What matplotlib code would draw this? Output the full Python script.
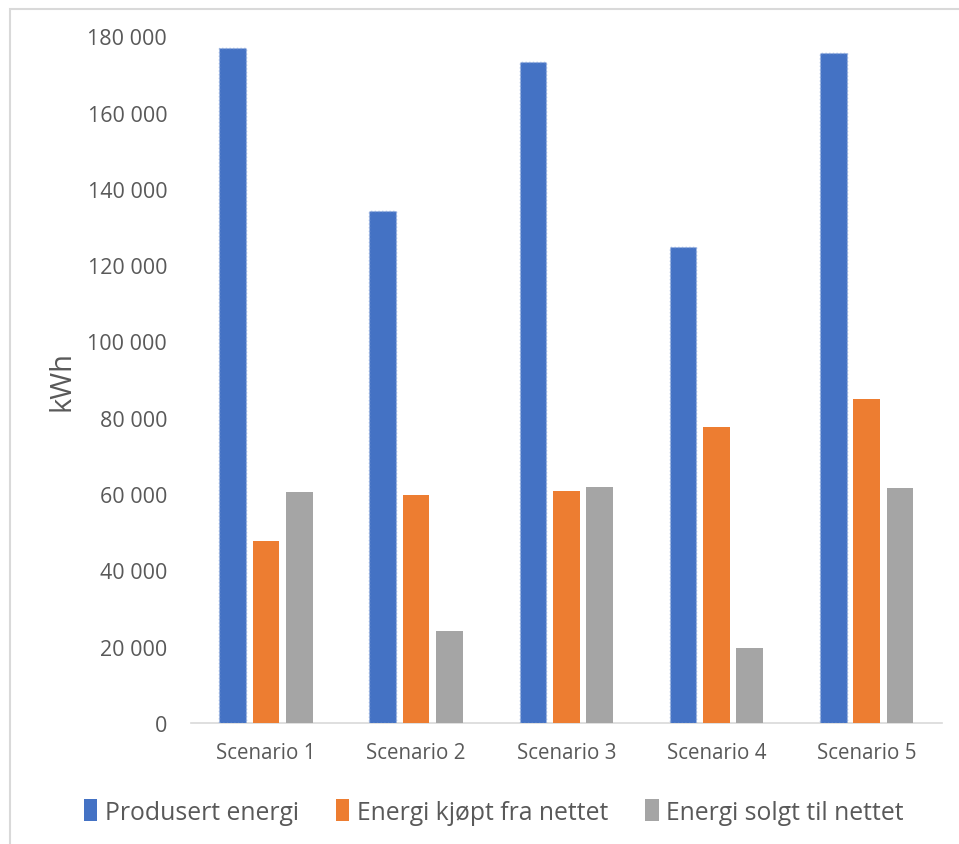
import matplotlib
matplotlib.use("Agg")
import matplotlib.pyplot as plt
import numpy as np
from matplotlib.patches import Rectangle, Patch

plt.rcParams['font.family'] = ['Open Sans', 'DejaVu Sans']

scenarios = ["Scenario 1", "Scenario 2", "Scenario 3", "Scenario 4", "Scenario 5"]
produsert = [176900, 134100, 173300, 124700, 175500]
kjopt = [47600, 59700, 60900, 77500, 85000]
solgt = [60500, 24200, 61800, 19700, 61500]
series_names = ["Produsert energi", "Energi kjøpt fra nettet", "Energi solgt til nettet"]
colors = ["#4472C4", "#ED7D31", "#A5A5A5"]
yticks = list(range(0, 180001, 20000))

text_color = "#595959"

fig = plt.figure(figsize=(9.59, 8.45), dpi=100)
ax = fig.add_axes([0.199, 0.1432, 0.783, 0.8127])

x = np.arange(len(scenarios))
width = 0.178
step = 0.222
ax.bar(x - step, produsert, width, color=colors[0], edgecolor="#8FAADC",
       linewidth=1.0, linestyle=":", zorder=3)
ax.bar(x, kjopt, width, color=colors[1], linewidth=0, zorder=3)
ax.bar(x + step, solgt, width, color=colors[2], linewidth=0, zorder=3)

ax.set_xlim(-0.5, len(scenarios) - 0.5)
ax.set_ylim(0, 180000)
ax.set_yticks(yticks)
ax.set_yticklabels([f"{v:,}".replace(",", " ") for v in yticks])
ax.set_xticks(x)
ax.set_xticklabels(scenarios)

for s in ["top", "right", "left"]:
    ax.spines[s].set_visible(False)
ax.spines["bottom"].set_color("#D9D9D9")
ax.spines["bottom"].set_linewidth(1.2)

ax.tick_params(axis="y", length=0, pad=17, labelsize=15.5, labelcolor=text_color)
ax.tick_params(axis="x", length=0, pad=14, labelsize=14.8, labelcolor=text_color)

ax.set_ylabel("kWh", fontsize=21, color=text_color)
ax.yaxis.set_label_coords(-0.152, 0.5)

handles = [Patch(facecolor=c, edgecolor="none") for c in colors]
fig.legend(handles, series_names, loc="center", bbox_to_anchor=(0.515, 0.038),
           ncol=3, frameon=False, fontsize=17.8, labelcolor=text_color,
           handlelength=0.55, handleheight=1.0, handletextpad=0.3,
           columnspacing=1.5)

# light frame around the chart area
fig.patches.append(Rectangle((9.5 / 959, -0.1), 1.2, 1 - 9.5 / 845 + 0.1,
                             transform=fig.transFigure, fill=False,
                             edgecolor="#D9D9D9", linewidth=1.5))

fig.savefig("out.png", dpi=100)
